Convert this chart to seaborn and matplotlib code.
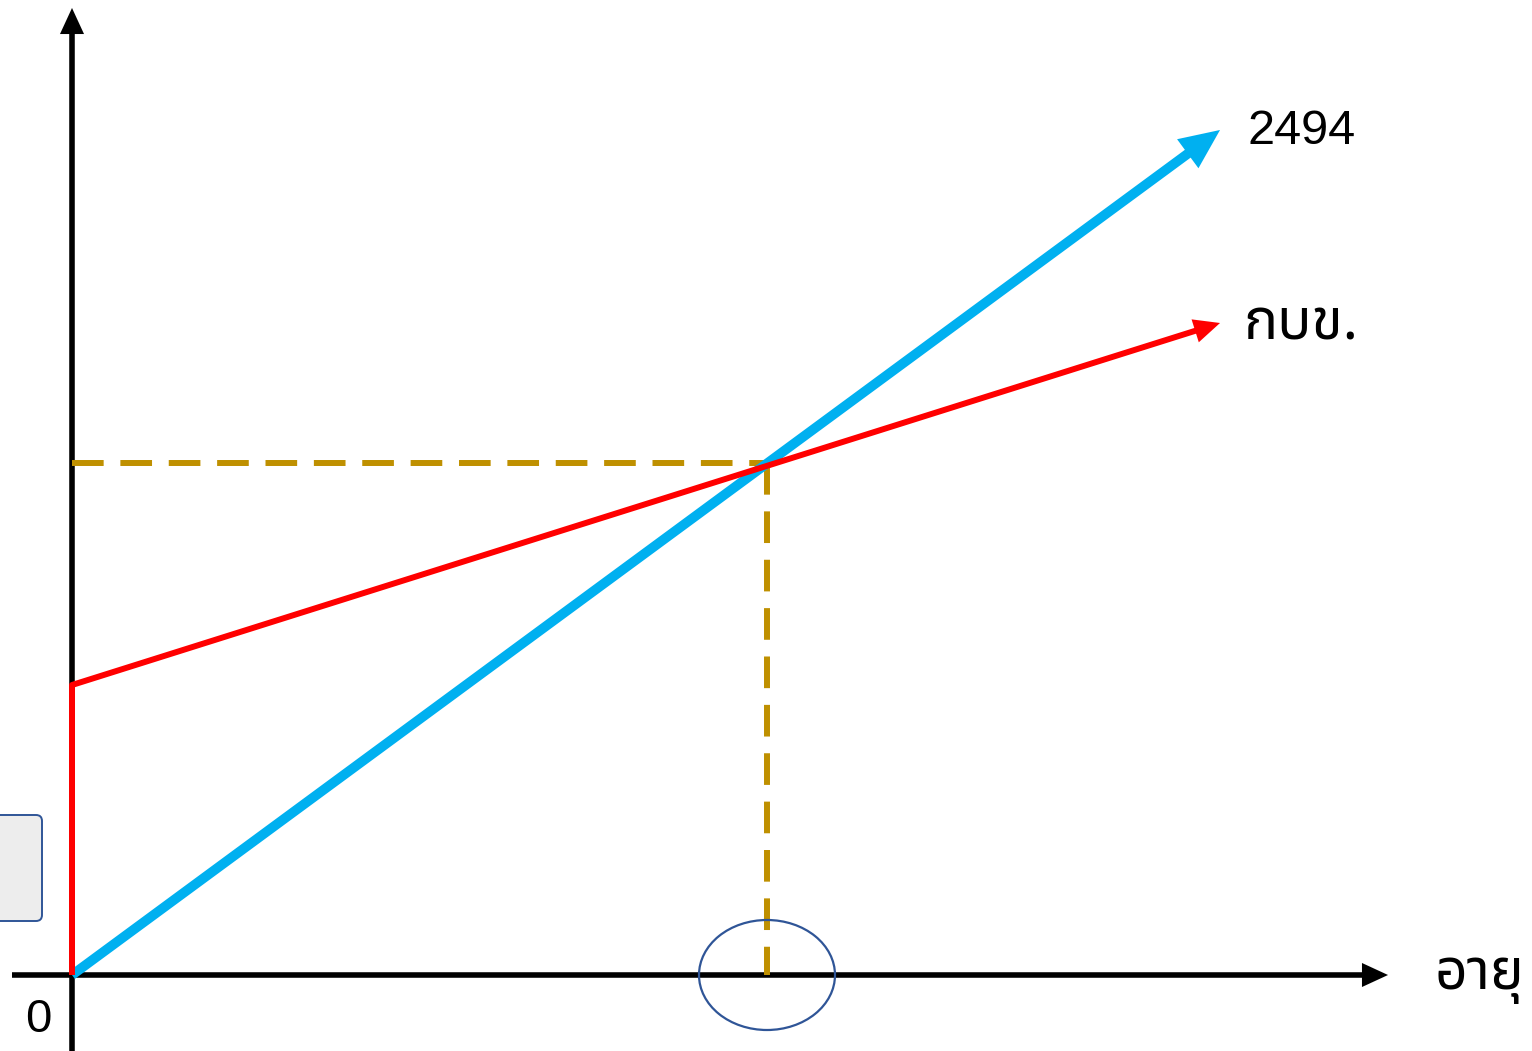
import matplotlib
matplotlib.use("Agg")
import matplotlib.pyplot as plt
from matplotlib.patches import Ellipse, FancyBboxPatch
import seaborn as sns
import numpy as np

# values (1 unit = 1 px, origin at the axes corner)
blue_x = [0, 1148]
blue_y = [0, 845]
red_x = [0, 0, 1148]
red_y = [0, 290, 652]
cross_x = 695
cross_y = 512
x_axis_end = 1316
y_axis_end = 967
labels = ["2494", "กบข.", "อายุ", "0"]

BLUE = "#00B0F0"
RED = "#FF0000"
GOLD = "#BF9000"
NAVY = "#2F5597"

sns.set_style("white")
plt.rcParams["text.color"] = "black"
thai = ["Noto Sans Thai", "Liberation Sans", "DejaVu Sans"]
latin = ["Liberation Sans", "DejaVu Sans"]

fig = plt.figure(figsize=(15.32, 10.51), dpi=100)
ax = fig.add_axes([0, 0, 1, 1])
ax.set_xlim(-72, 1460)
ax.set_ylim(-76, 975)
ax.axis("off")


def arrow_line(xs, ys, color, lw, head_len, head_w, z):
    # line trimmed before the tip, head drawn with annotate
    xs = list(xs)
    ys = list(ys)
    dx = xs[-1] - xs[-2]
    dy = ys[-1] - ys[-2]
    d = np.hypot(dx, dy)
    tx = xs[-1] - dx / d * head_len * 0.6
    ty = ys[-1] - dy / d * head_len * 0.6
    sns.lineplot(x=xs[:-1] + [tx], y=ys[:-1] + [ty], color=color, lw=lw,
                 estimator=None, sort=False, ax=ax, zorder=z,
                 solid_capstyle="butt")
    ax.annotate("", xy=(xs[-1], ys[-1]), xytext=(xs[-2], ys[-2]),
                arrowprops=dict(arrowstyle=f"-|>,head_length={head_len / 20 * 0.72},"
                                           f"head_width={head_w / 40 * 0.72}",
                                mutation_scale=20, color=color, lw=0.01,
                                shrinkA=0, shrinkB=0), zorder=z)


# axes
arrow_line([-60, x_axis_end], [0, 0], "black", 4.0, 26, 24, 2)
arrow_line([0, 0], [-76, y_axis_end], "black", 4.0, 26, 24, 2)

# guide lines
sns.lineplot(x=[0, cross_x], y=[cross_y, cross_y], color=GOLD, lw=4.3,
             linestyle=(0, (5.3, 2.8)), estimator=None, sort=False, ax=ax, zorder=3)
sns.lineplot(x=[cross_x, cross_x], y=[cross_y, 0], color=GOLD, lw=4.3,
             linestyle=(0, (5.3, 2.8)), estimator=None, sort=False, ax=ax, zorder=3)

# series
arrow_line(blue_x, blue_y, BLUE, 7.0, 40, 36, 4)
arrow_line(red_x, red_y, RED, 4.3, 26, 24, 5)

ax.add_patch(Ellipse((cross_x, 0), 136, 110, fill=False, ec=NAVY, lw=1.6, zorder=6))
ax.add_patch(FancyBboxPatch((-100, 54), 70, 106, boxstyle="round,pad=0,rounding_size=6",
                            fc="#EDEDED", ec=NAVY, lw=1.4, zorder=1))

ax.text(1175, 844, labels[0], fontsize=35, va="center", ha="left", family=latin)
ax.text(1171, 650, labels[1], fontsize=41, va="center", ha="left", family=thai,
        fontweight="bold")
ax.text(1363, 0, labels[2], fontsize=41, va="center", ha="left", family=thai,
        fontweight="bold")
ax.text(-34, -45, labels[3], fontsize=34, va="center", ha="center", family=latin)

fig.savefig("out.png", dpi=100)
